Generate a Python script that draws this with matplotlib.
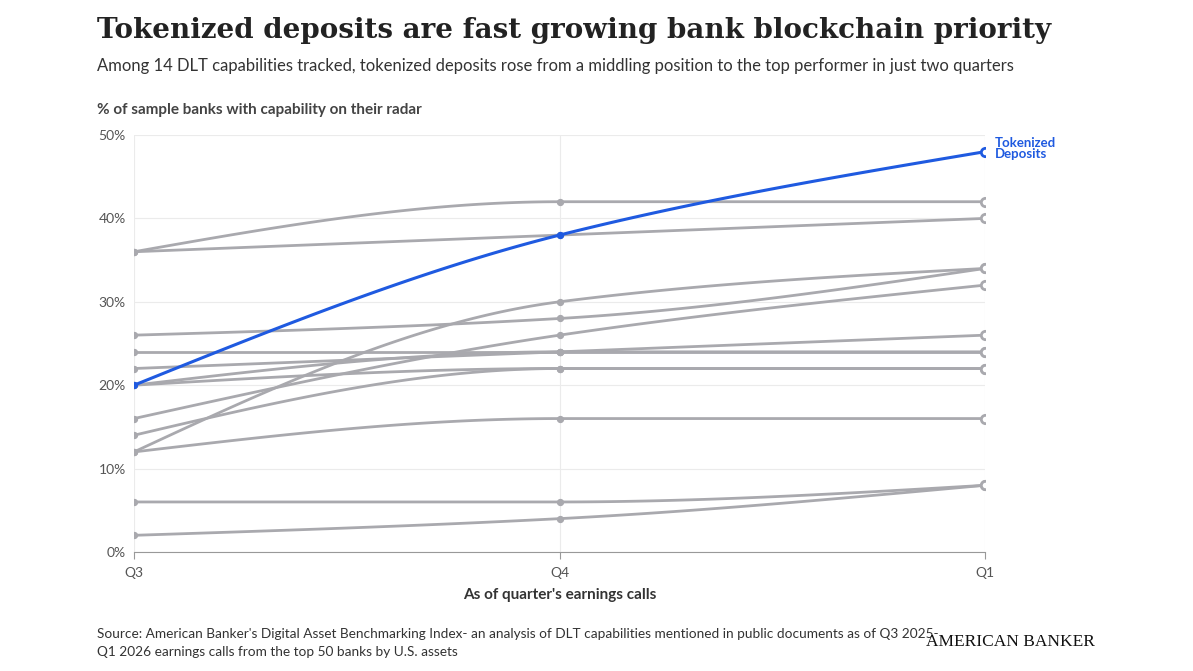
import matplotlib.pyplot as plt
import numpy as np

plt.rcParams['font.family'] = ['Lato', 'DejaVu Sans']

quarters = ['Q3', 'Q4', 'Q1']
blue_series = [20, 38, 48]
gray_series = [
    [36, 42, 42],
    [36, 38, 40],
    [26, 28, 34],
    [12, 30, 34],
    [16, 26, 32],
    [22, 24, 26],
    [24, 24, 24],
    [20, 24, 24],
    [14, 22, 22],
    [20, 22, 22],
    [12, 16, 16],
    [6, 6, 8],
    [2, 4, 8],
]
yticks = [0, 10, 20, 30, 40, 50]


def monotone(xs, ys, n=60):
    # monotone cubic (Fritsch-Carlson), like d3 curveMonotoneX
    xs = np.asarray(xs, float); ys = np.asarray(ys, float)
    h = np.diff(xs); d = np.diff(ys) / h
    m = np.zeros(len(xs))
    for i in range(1, len(xs) - 1):
        if d[i - 1] * d[i] <= 0:
            m[i] = 0
        else:
            m[i] = 3 * (h[i - 1] + h[i]) / ((2 * h[i] + h[i - 1]) / d[i - 1] + (h[i] + 2 * h[i - 1]) / d[i])
    m[0] = (3 * d[0] - m[1]) / 2
    m[-1] = (3 * d[-1] - m[-2]) / 2
    X, Y = [], []
    for i in range(len(xs) - 1):
        t = np.linspace(0, 1, n)
        h00 = 2*t**3 - 3*t**2 + 1; h10 = t**3 - 2*t**2 + t
        h01 = -2*t**3 + 3*t**2; h11 = t**3 - t**2
        X.append(xs[i] + t * h[i])
        Y.append(h00*ys[i] + h10*h[i]*m[i] + h01*ys[i+1] + h11*h[i]*m[i+1])
    return np.concatenate(X), np.concatenate(Y)


fig = plt.figure(figsize=(11.93, 6.71), dpi=100)
ax = fig.add_axes([134/1193, 1 - 552/671, (985-134)/1193, (552-135)/671])
x = np.arange(len(quarters))
gray = '#a9a9ae'
for s in gray_series:
    X, Y = monotone(x, s)
    ax.plot(X, Y, color=gray, lw=2, zorder=2, solid_capstyle='round')
    ax.scatter(x[:2], s[:2], s=18, color=gray, zorder=3)
    ax.scatter(x[2], s[2], s=36, facecolor='white', edgecolor=gray, lw=2, zorder=3)
blue = '#1f5ae0'
X, Y = monotone(x, blue_series)
ax.plot(X, Y, color=blue, lw=2.2, zorder=4)
ax.scatter(x[:2], blue_series[:2], s=18, color=blue, zorder=5)
ax.scatter(x[2], blue_series[2], s=36, facecolor='white', edgecolor=blue, lw=2, zorder=5)
ax.text(2.024, 48.4, 'Tokenized\nDeposits', color=blue, fontsize=9.5, fontweight='bold',
        va='center', ha='left', linespacing=0.85)

ax.set_xlim(0, 2); ax.set_ylim(0, 50)
ax.set_xticks(x, quarters)
ax.set_yticks(yticks, [f'{v}%' for v in yticks])
ax.tick_params(colors='#555555', labelsize=10, length=0, pad=6)
ax.tick_params(axis='x', length=5, color='#999999')
ax.grid(True, color='#ebebeb', lw=0.8)
for k in ['top', 'right', 'left']:
    ax.spines[k].set_visible(False)
ax.spines['bottom'].set_color('#999999')
ax.set_xlabel("As of quarter's earnings calls", fontsize=11, fontweight='bold', color='#333333', labelpad=6)

fig.text(97/1193, 1 - 30/671, 'Tokenized deposits are fast growing bank blockchain priority',
         fontsize=20, fontweight='bold', family='DejaVu Serif', color='#222222', va='center')
fig.text(97/1193, 1 - 66/671, 'Among 14 DLT capabilities tracked, tokenized deposits rose from a middling position to the top performer in just two quarters',
         fontsize=12, color='#333333', va='center')
fig.text(97/1193, 1 - 110/671, '% of sample banks with capability on their radar',
         fontsize=11, fontweight='bold', color='#444444', va='center')
fig.text(97/1193, 1 - 643/671, "Source: American Banker's Digital Asset Benchmarking Index- an analysis of DLT capabilities mentioned in public documents as of Q3 2025-\nQ1 2026 earnings calls from the top 50 banks by U.S. assets",
         fontsize=9.8, color='#333333', va='center', linespacing=1.5)
fig.text(1095/1193, 1 - 642/671, 'AMERICAN BANKER', fontsize=12.5, family='Liberation Serif',
         color='#111111', ha='right', va='center')
fig.savefig('out.png', dpi=100, facecolor='white')
